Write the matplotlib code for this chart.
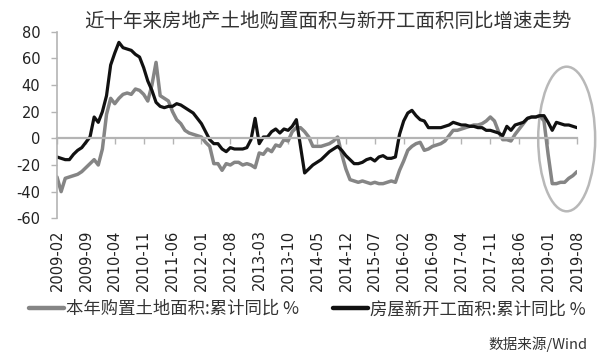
import matplotlib
matplotlib.use("Agg")
import matplotlib.pyplot as plt
import numpy as np
import pandas as pd
from matplotlib.patches import Ellipse

plt.rcParams["axes.unicode_minus"] = False
CJK = ["Noto Sans CJK SC", "DejaVu Sans"]

TITLE = "近十年来房地产土地购置面积与新开工面积同比增速走势"
LAND_LABEL = "本年购置土地面积:累计同比 %"
START_LABEL = "房屋新开工面积:累计同比 %"
SOURCE = "数据来源/Wind"

# monthly, 2009-02 .. 2019-08
land_yoy = [
    -29, -40, -30, -29, -28, -27, -25, -22, -19, -16, -20, -8, 18, 30, 26, 30,
    33, 34, 33, 37, 36, 33, 28, 40, 57, 32, 30, 28, 20, 14, 11, 6,
    4, 3, 2, 1, -3, -6, -19, -19, -24, -19, -20, -18, -18, -20, -19, -20,
    -22, -11, -12, -8, -10, -5, -6, -1, -2, 5, 8, 8, 5, 1, -6, -6,
    -6, -5, -4, -2, 1, -12, -23, -31, -32, -33, -32, -33, -34, -33, -34, -34,
    -33, -32, -33, -24, -17, -9, -6, -4, -3, -9, -8, -6, -5, -4, -2, 2,
    6, 6, 7, 8, 9, 10, 10, 11, 13, 16, 13, 5, -1, -1, -2, 3,
    7, 11, 15, 16, 16, 17, 13, -12, -34, -34, -33, -33, -30, -28, -25,
]
starts_yoy = [
    -14, -15, -16, -16, -12, -9, -7, -3, 1, 16, 12, 20, 32, 55, 64, 72,
    68, 67, 66, 63, 61, 53, 43, 36, 27, 24, 23, 24, 24, 26, 25, 23,
    21, 19, 15, 11, 5, -1, -4, -4, -8, -10, -7, -8, -8, -8, -7, -1,
    15, -4, 1, 1, 5, 7, 4, 7, 6, 9, 14, -6, -26, -23, -20, -18,
    -16, -13, -10, -8, -6, -9, -13, -16, -19, -19, -18, -16, -15, -17, -14, -13,
    -15, -15, -14, 3, 13, 19, 21, 17, 14, 13, 8, 8, 8, 8, 9, 10,
    12, 11, 10, 10, 9, 9, 8, 8, 6, 6, 5, 4, 2, 9, 6, 10,
    11, 12, 15, 16, 16, 17, 17, 12, 6, 12, 11, 10, 10, 9, 8,
]
months = pd.date_range("2009-02", periods=len(land_yoy), freq="MS")
tick_step = 7
y_ticks = [-60, -40, -20, 0, 20, 40, 60, 80]

GRAY = "#858585"
AXIS_GRAY = "#b4b4b4"

fig = plt.figure(figsize=(6.0, 3.58), dpi=100)
ax = fig.add_axes([57 / 600, 1 - 218.3 / 358, 520 / 600, 186.6 / 358])

x = np.arange(len(months))
ax.plot(x, land_yoy, color=GRAY, lw=2.5, solid_capstyle="round", label=LAND_LABEL)
ax.plot(x, starts_yoy, color="#111111", lw=2.3, solid_capstyle="round", label=START_LABEL)

ax.set_xlim(0, len(months) - 1)
ax.set_ylim(-60, 80)
ax.set_yticks(y_ticks)
ax.tick_params(axis="y", colors=AXIS_GRAY, length=4, width=1, pad=8, labelcolor="#222222", labelsize=10.5)

for side in ("top", "right"):
    ax.spines[side].set_visible(False)
ax.spines["left"].set_color(AXIS_GRAY)
ax.spines["left"].set_linewidth(1.2)
ax.spines["bottom"].set_position(("data", 0))
ax.spines["bottom"].set_color(AXIS_GRAY)
ax.spines["bottom"].set_linewidth(1.6)

tick_pos = x[::tick_step]
tick_lab = [d.strftime("%Y-%m") for d in months[::tick_step]]
ax.set_xticks(tick_pos)
ax.tick_params(axis="x", colors=AXIS_GRAY, direction="out", length=4, width=1, labelbottom=False)

sec = ax.secondary_xaxis("bottom")
sec.set_xticks(tick_pos)
sec.set_xticklabels(tick_lab, rotation=90, fontsize=10.5, color="#222222")
sec.tick_params(length=0, pad=8)
sec.spines["bottom"].set_visible(False)

# highlight of the 2019 drop
ell = Ellipse((123.5, -0.5), 13.8, 108.5, fill=False, edgecolor="#b8b8b8", lw=1.8, clip_on=False)
ax.add_patch(ell)

fig.text(0.547, 1 - 21 / 358, TITLE, ha="center", va="center", fontsize=14, color="#333333", family=CJK)

leg = fig.legend(loc="center", bbox_to_anchor=(0.512, 1 - 309 / 358), ncol=2, frameon=False,
                 handlelength=2.0, handletextpad=0.1, columnspacing=2.0,
                 prop={"family": CJK, "size": 12.5})
for line in leg.get_lines():
    line.set_linewidth(3.2)
for t in leg.get_texts():
    t.set_color("#333333")

fig.text(0.98, 1 - 344 / 358, SOURCE, ha="right", va="center", fontsize=10.5, color="#333333", family=CJK)

fig.savefig("out.png", dpi=100)
